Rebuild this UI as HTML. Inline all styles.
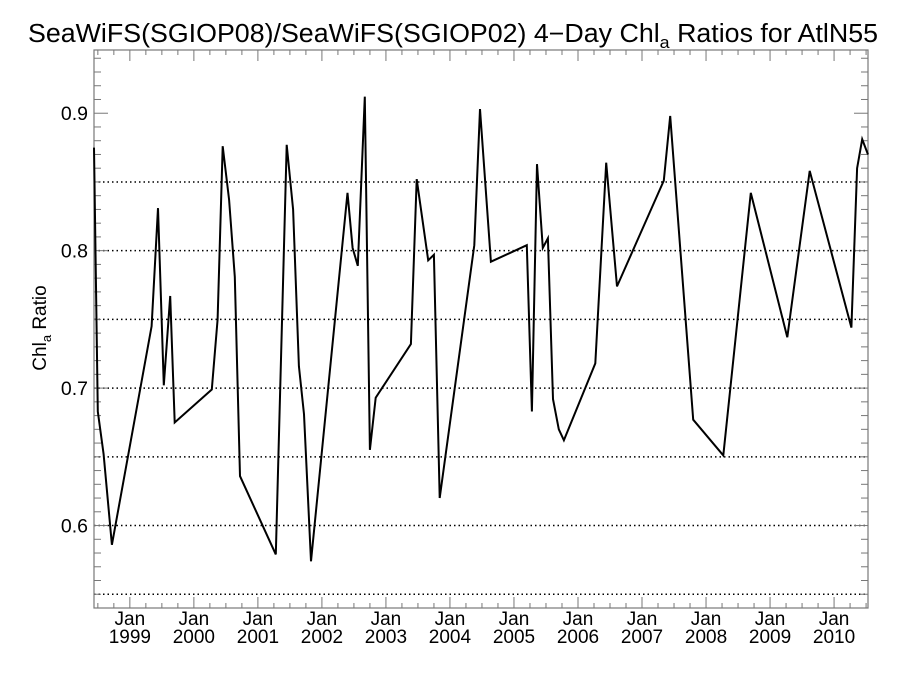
<!DOCTYPE html>
<html><head><meta charset="utf-8"><style>
body{margin:0;background:#fff;}
svg text{font-family:"Liberation Sans",sans-serif;fill:#000;}
</style></head><body>
<svg id="chart" width="900" height="675" xmlns="http://www.w3.org/2000/svg">
<text x="453" y="42" font-size="25.5" text-anchor="middle" textLength="850" lengthAdjust="spacingAndGlyphs">SeaWiFS(SGIOP08)/SeaWiFS(SGIOP02) 4−Day Chl<tspan font-size="17" dy="6">a</tspan><tspan dy="-6"> Ratios for AtlN55</tspan></text>
<text transform="translate(46,328) rotate(-90)" font-size="19" text-anchor="middle">Chl<tspan font-size="13" dy="5">a</tspan><tspan dy="-5"> Ratio</tspan></text>
<g id="grid"></g><g id="axes"></g><g id="series"></g>
</svg>
<script>
const years=[1999,2000,2001,2002,2003,2004,2005,2006,2007,2008,2009,2010];
const yTickLabels=[0.6,0.7,0.8,0.9];
const gridValues=[0.55,0.6,0.65,0.7,0.75,0.8,0.85];
const dates=[1998.44,1998.50,1998.59,1998.72,1999.34,1999.44,1999.53,1999.63,1999.70,2000.28,2000.37,2000.45,2000.55,2000.64,2000.72,2001.28,2001.45,2001.55,2001.64,2001.72,2001.83,2002.40,2002.48,2002.56,2002.67,2002.75,2002.84,2003.39,2003.48,2003.66,2003.75,2003.84,2004.38,2004.47,2004.64,2005.20,2005.28,2005.36,2005.45,2005.53,2005.61,2005.70,2005.78,2006.27,2006.44,2006.61,2007.34,2007.44,2007.80,2008.27,2008.70,2009.27,2009.62,2010.27,2010.36,2010.44,2010.53];
const values=[0.875,0.683,0.652,0.586,0.745,0.831,0.702,0.767,0.675,0.699,0.750,0.876,0.837,0.781,0.636,0.579,0.877,0.830,0.716,0.681,0.574,0.842,0.802,0.789,0.912,0.655,0.693,0.732,0.852,0.793,0.797,0.620,0.804,0.903,0.792,0.804,0.683,0.863,0.802,0.809,0.692,0.670,0.662,0.718,0.864,0.774,0.851,0.898,0.677,0.651,0.842,0.737,0.858,0.744,0.860,0.881,0.870];
const L=94,R=868,T=50,B=608,x0=1998.44,x1=2010.53,y0=0.540,y1=0.946;
const X=v=>L+(v-x0)/(x1-x0)*(R-L);
const Y=v=>B-(v-y0)/(y1-y0)*(B-T);
const NS="http://www.w3.org/2000/svg";
function mk(tag,attrs,parent,txt){const e=document.createElementNS(NS,tag);for(const k in attrs)e.setAttribute(k,attrs[k]);if(txt!==undefined)e.textContent=txt;parent.appendChild(e);return e;}
const grid=document.getElementById('grid'),axes=document.getElementById('axes'),series=document.getElementById('series');
gridValues.forEach(g=>{const l=mk('line',{x1:L,x2:R,y1:Y(g),y2:Y(g),stroke:'#000','stroke-width':1.5,'stroke-dasharray':'1.5,3'},grid);

});
const frame=mk('rect',{x:L,y:T,width:R-L,height:B-T,fill:'none',stroke:'#777','stroke-width':1.2},axes);


for(let i=54;i<=94;i++){const v=i/100;if(v<y0||v>y1)continue;const major=i%10===0;const len=major?14:7;
mk('line',{x1:L,x2:L+len,y1:Y(v),y2:Y(v),stroke:'#777','stroke-width':1},axes);
mk('line',{x1:R,x2:R-len,y1:Y(v),y2:Y(v),stroke:'#777','stroke-width':1},axes);}
yTickLabels.forEach(v=>{const t=mk('text',{x:L-6,y:Y(v)+7,'font-size':19.5,'text-anchor':'end'},axes,v.toFixed(1));

});
for(let q=1998*4;q<=2011*4;q++){const v=q/4;if(v<x0||v>x1)continue;const major=q%4===0;const len=major?11:5;
mk('line',{x1:X(v),x2:X(v),y1:B,y2:B-len,stroke:'#777','stroke-width':1},axes);
mk('line',{x1:X(v),x2:X(v),y1:T,y2:T+len,stroke:'#777','stroke-width':1},axes);}
years.forEach(y=>{const t=mk('text',{x:X(y),y:625,'font-size':19,'text-anchor':'middle'},axes,'Jan');


const t2=mk('text',{x:X(y),y:643,'font-size':19,'text-anchor':'middle'},axes,String(y));

});
const pts=dates.map((d,i)=>X(d).toFixed(1)+','+Y(values[i]).toFixed(1)).join(' ');
const pl=mk('polyline',{points:pts,fill:'none',stroke:'#000','stroke-width':2,'stroke-linejoin':'miter'},series);


</script>
</body></html>
